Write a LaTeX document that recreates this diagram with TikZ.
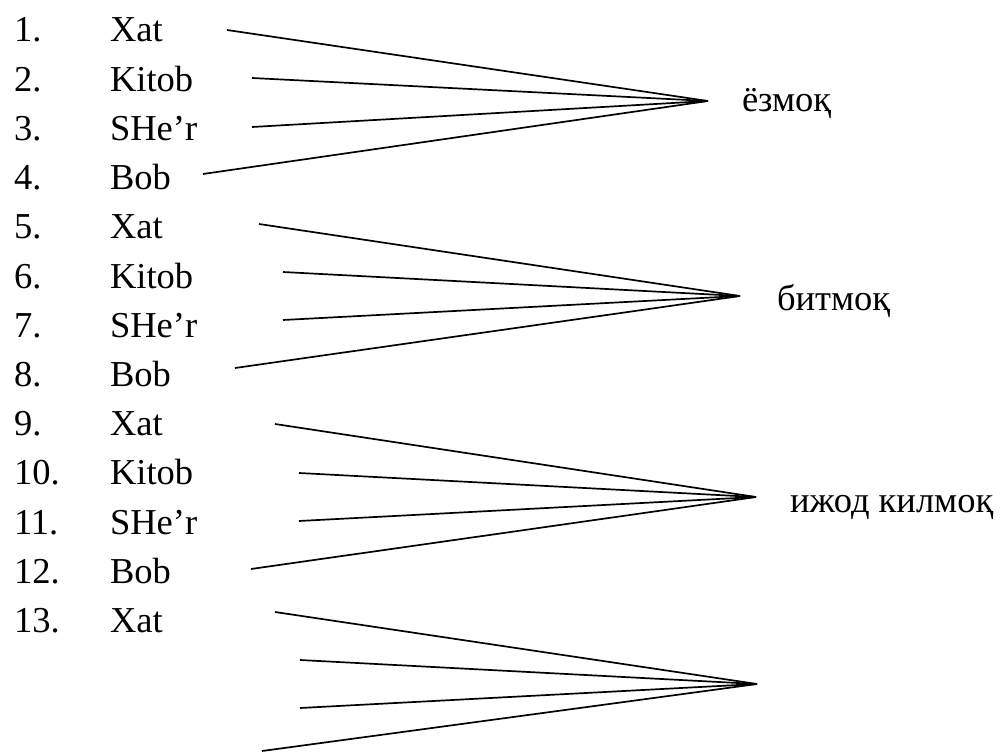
\documentclass[tikz,border=0pt]{standalone}
\usepackage{fontspec}
\setmainfont{Liberation Serif}
\begin{document}
\begin{tikzpicture}[x=1pt,y=-1pt,
  txt/.style={anchor=base west,inner sep=0pt,outer sep=0pt,font=\fontsize{36.5}{44}\selectfont},
  lnk/.style={line width=1.7pt}]
\useasboundingbox (0,0) rectangle (1003,754);
% rows
\foreach \i/\w in {1/Xat,2/Kitob,3/SHe’r,4/Bob,5/Xat,6/Kitob,7/SHe’r,8/Bob,9/Xat,10/Kitob,11/SHe’r,12/Bob,13/Xat}{
  \node[txt] (n\i) at (14,{42+49.2*(\i-1)}) {\i.};
  \node[txt] (w\i) at (110,{42+49.2*(\i-1)}) {\w};
}
% labels
\node[txt] (l1) at (742,112) {ёзмоқ};
\node[txt] (l2) at (777,310) {битмоқ};
\node[txt] (l3) at (790,512) {ижод килмоқ};
% apexes
\coordinate (a1) at (708,101);
\coordinate (a2) at (740,296);
\coordinate (a3) at (756,497);
\coordinate (a4) at (757,684);
% starts
\coordinate (s1) at (227,30);  \coordinate (s2) at (252,78);
\coordinate (s3) at (252,127); \coordinate (s4) at (203,174);
\coordinate (s5) at (259,224); \coordinate (s6) at (283,272);
\coordinate (s7) at (283,320); \coordinate (s8) at (235,368);
\coordinate (s9) at (275,424); \coordinate (s10) at (299,473);
\coordinate (s11) at (299,521); \coordinate (s12) at (251,569);
\coordinate (s13) at (275,612); \coordinate (s14) at (300,660);
\coordinate (s15) at (300,708); \coordinate (s16) at (262,751);
\foreach \s in {1,2,3,4} \draw[lnk] (s\s) -- (a1);
\foreach \s in {5,6,7,8} \draw[lnk] (s\s) -- (a2);
\foreach \s in {9,10,11,12} \draw[lnk] (s\s) -- (a3);
\foreach \s in {13,14,15,16} \draw[lnk] (s\s) -- (a4);
\end{tikzpicture}
\end{document}
